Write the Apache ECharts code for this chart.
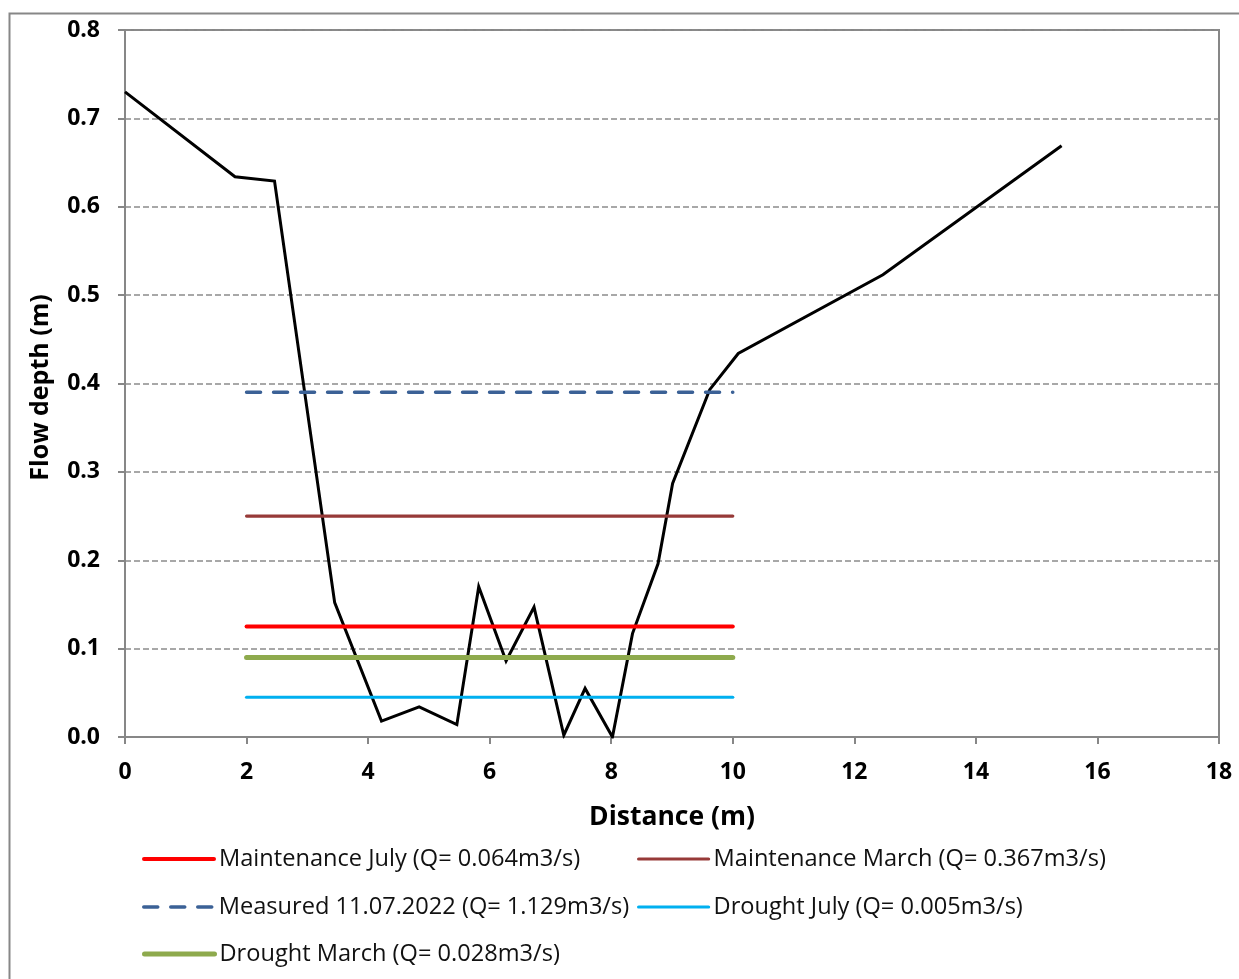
<!DOCTYPE html>
<html>
<head>
<meta charset="utf-8">
<title>Flow depth cross-section</title>
<script src="https://cdn.jsdelivr.net/npm/echarts@6/dist/echarts.min.js"></script>
<style>
  html, body { margin: 0; padding: 0; background: #ffffff; }
  #chart { width: 1239px; height: 979px; }
</style>
</head>
<body>
<div id="chart"></div>
<script>
// Channel bed profile: distance (m) and depth (m)
const profileX = [0, 1.81, 2.46, 3.45, 4.22, 4.84, 5.46, 5.82, 6.27, 6.73, 7.22, 7.57, 8.02, 8.35, 8.77, 9.01, 9.62, 10.09, 12.47, 15.41];
const profileY = [0.73, 0.634, 0.629, 0.152, 0.018, 0.034, 0.014, 0.17, 0.086, 0.147, 0.002, 0.055, 0.0, 0.117, 0.196, 0.287, 0.393, 0.434, 0.523, 0.669];

// Water levels for each scenario, drawn across the channel
const levelNames = [
  'Maintenance July (Q= 0.064m3/s)',
  'Maintenance March (Q= 0.367m3/s)',
  'Measured 11.07.2022 (Q= 1.129m3/s)',
  'Drought July (Q= 0.005m3/s)',
  'Drought March (Q= 0.028m3/s)'
];
const levelDepths = [0.125, 0.25, 0.39, 0.045, 0.09];
const levelStart = [2, 2, 2, 2, 2];
const levelEnd = [10, 10, 10, 10, 10];

// Axis ticks
const xTicks = [0, 2, 4, 6, 8, 10, 12, 14, 16, 18];
const yTicks = [0, 0.1, 0.2, 0.3, 0.4, 0.5, 0.6, 0.7, 0.8];

const levelStyles = [
  { color: '#ff0000', width: 4, type: 'solid' },
  { color: '#973a38', width: 3.2, type: 'solid' },
  { color: '#3b6196', width: 3.5, type: [14, 13] },
  { color: '#00b0f0', width: 3.2, type: 'solid' },
  { color: '#8eaa4d', width: 5, type: 'solid' }
];

const legendPos = [
  { left: 142, top: 847 },
  { left: 637, top: 847 },
  { left: 142, top: 895 },
  { left: 637, top: 895 },
  { left: 142, top: 942 }
];

const FONT = 'Open Sans';
const gray = '#878787';

const series = [{
  name: 'profile',
  type: 'line',
  data: profileX.map((x, i) => [x, profileY[i]]),
  symbol: 'none',
  lineStyle: { color: '#000000', width: 3, join: 'miter' },
  z: 2,
  silent: true
}];

levelNames.forEach((name, i) => {
  const s = levelStyles[i];
  series.push({
    name: name,
    type: 'line',
    data: [[levelStart[i], levelDepths[i]], [levelEnd[i], levelDepths[i]]],
    symbol: 'none',
    itemStyle: { color: s.color },
    lineStyle: { color: s.color, width: s.width, type: s.type, cap: 'round' },
    z: 3,
    silent: true
  });
});

const legends = levelNames.map((name, i) => ({
  data: [name],
  left: legendPos[i].left,
  top: legendPos[i].top,
  padding: 0,
  orient: 'horizontal',
  itemWidth: 70,
  itemHeight: 26,
  selectedMode: false,
  itemStyle: { opacity: 0 },
  lineStyle: { width: 'inherit' },
  textStyle: { fontFamily: FONT, fontSize: 23.6, color: '#111111' }
}));

const chart = echarts.init(document.getElementById('chart'), null, { renderer: 'canvas' });
chart.setOption({
  animation: false,
  backgroundColor: '#ffffff',
  grid: {
    left: 125, right: 20, top: 30, bottom: 242,
    show: true, borderColor: gray, borderWidth: 2, backgroundColor: 'transparent'
  },
  graphic: [{
    type: 'rect',
    shape: { x: 9.5, y: 13.5, width: 1300, height: 1100 },
    style: { fill: 'none', stroke: gray, lineWidth: 2 },
    silent: true,
    z: -1
  }],
  legend: legends,
  xAxis: {
    type: 'value',
    min: xTicks[0],
    max: xTicks[xTicks.length - 1],
    interval: xTicks[1] - xTicks[0],
    name: 'Distance (m)',
    nameLocation: 'middle',
    nameGap: 67,
    nameTextStyle: { fontFamily: FONT, fontSize: 26.5, fontWeight: 'bold', color: '#000000' },
    axisLine: { show: true, onZero: false, lineStyle: { color: gray, width: 2 } },
    axisTick: { show: true, length: 7, lineStyle: { color: gray, width: 2 } },
    axisLabel: { fontFamily: FONT, fontSize: 23, fontWeight: 'bold', color: '#000000', margin: 24 },
    splitLine: { show: false }
  },
  yAxis: {
    type: 'value',
    min: yTicks[0],
    max: yTicks[yTicks.length - 1],
    interval: 0.1,
    name: 'Flow depth (m)',
    nameLocation: 'middle',
    nameGap: 72,
    nameRotate: 90,
    nameTextStyle: { fontFamily: FONT, fontSize: 25, fontWeight: 'bold', color: '#000000', padding: [0, 8, 0, 0] },
    axisLine: { show: true, lineStyle: { color: gray, width: 2 } },
    axisTick: { show: true, length: 7, lineStyle: { color: gray, width: 2 } },
    axisLabel: {
      fontFamily: FONT, fontSize: 23, fontWeight: 'bold', color: '#000000', margin: 25,
      formatter: v => v.toFixed(1)
    },
    splitLine: { show: true, lineStyle: { color: '#8c8c8c', width: 1.5, type: [6, 3] } }
  },
  series: series
});
</script>
</body>
</html>
